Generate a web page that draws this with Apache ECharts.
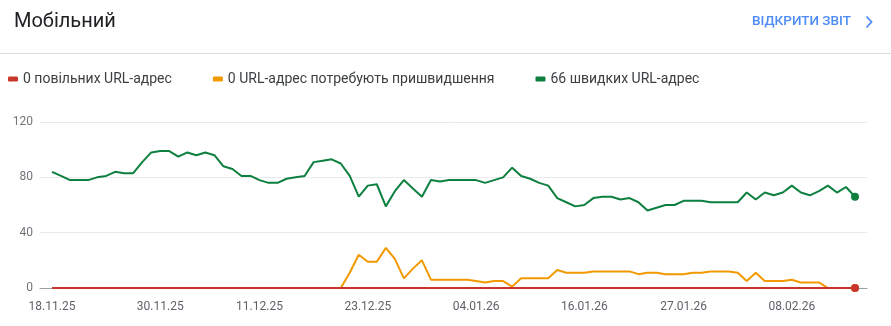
<!DOCTYPE html>
<html>
<head>
<meta charset="utf-8">
<script src="https://cdn.jsdelivr.net/npm/echarts@6/dist/echarts.min.js"></script>
<style>
html,body{margin:0;padding:0;background:#fff;}
#chart{width:891px;height:326px;}
</style>
</head>
<body>
<div id="chart"></div>
<script>
// Categories: daily dates
const dates = [
 '18.11.25','19.11.25','20.11.25','21.11.25','22.11.25','23.11.25','24.11.25','25.11.25','26.11.25','27.11.25','28.11.25','29.11.25','30.11.25',
 '01.12.25','02.12.25','03.12.25','04.12.25','05.12.25','06.12.25','07.12.25','08.12.25','09.12.25','10.12.25','11.12.25','12.12.25','13.12.25','14.12.25','15.12.25','16.12.25','17.12.25','18.12.25','19.12.25','20.12.25','21.12.25','22.12.25','23.12.25','24.12.25','25.12.25','26.12.25','27.12.25','28.12.25','29.12.25','30.12.25','31.12.25',
 '01.01.26','02.01.26','03.01.26','04.01.26','05.01.26','06.01.26','07.01.26','08.01.26','09.01.26','10.01.26','11.01.26','12.01.26','13.01.26','14.01.26','15.01.26','16.01.26','17.01.26','18.01.26','19.01.26','20.01.26','21.01.26','22.01.26','23.01.26','24.01.26','25.01.26','26.01.26','27.01.26','28.01.26','29.01.26','30.01.26','31.01.26',
 '01.02.26','02.02.26','03.02.26','04.02.26','05.02.26','06.02.26','07.02.26','08.02.26','09.02.26','10.02.26','11.02.26','12.02.26','13.02.26','14.02.26','15.02.26'
];
const tickLabels = ['18.11.25','30.11.25','11.12.25','23.12.25','04.01.26','16.01.26','27.01.26','08.02.26'];

const seriesNames = ['0 повільних URL-адрес', '0 URL-адрес потребують пришвидшення', '66 швидких URL-адрес'];

const slowValues = [
 0,0,0,0,0,0,0,0,0,0,0,0,0,
 0,0,0,0,0,0,0,0,0,0,0,0,0,0,0,0,0,0,0,0,0,0,0,0,0,0,0,0,0,0,0,
 0,0,0,0,0,0,0,0,0,0,0,0,0,0,0,0,0,0,0,0,0,0,0,0,0,0,0,0,0,0,0,
 0,0,0,0,0,0,0,0,0,0,0,0,0,0,0
];
const needsValues = [
 0,0,0,0,0,0,0,0,0,0,0,0,0,
 0,0,0,0,0,0,0,0,0,0, 0,0,0,0,0,0,0,0,0,0, 11,24,19,19,29,21,7,14,20,6,6,
 6,6,6,5,4,5,5,1,7,7,7,7,13,11,11,11,12,12,12,12,12,10,11,11,10,10,10,11,11,12,12,
 12,11,5,11,5,5,5,6,4,4,4,0,0,0,0
];
const fastValues = [
 84,81,78,78,78,80,81,84,83,83,91,98,99,
 99,95,98,96,98,96,88,86,81,81,78,76,76,79,80,81,91,92,93,90,81,66,74,75,59,70,78,72,66,78,77,
 78,78,78,78,76,78,80,87,81,79,76,74,65,62,59,60,65,66,66,64,65,62,56,58,60,60,63,63,63,62,62,
 62,62,69,64,69,67,69,74,69,67,70,74,69,73,66
];

const colors = { slow: '#c9372c', needs: '#f29900', fast: '#0d7f3f' };
const last = dates.length - 1;
const tickIdx = tickLabels.map(l => dates.indexOf(l));

function mk(name, vals, color, z) {
  return {
    name: name,
    type: 'line',
    data: vals.map((v, i) => [i, v]),
    color: color,
    z: z,
    lineStyle: { width: 2, color: color },
    itemStyle: { color: color },
    symbol: 'circle',
    symbolSize: (v, p) => (p.dataIndex === last ? 8 : 0),
    showSymbol: true,
    silent: true,
    animation: false,
    emphasis: { disabled: true }
  };
}

const chart = echarts.init(document.getElementById('chart'), null, { renderer: 'canvas' });
chart.setOption({
  animation: false,
  textStyle: { fontFamily: 'Roboto' },
  title: {
    text: 'Мобільний',
    left: 9, top: 7,
    textStyle: { fontSize: 20, fontWeight: 400, color: '#202124', fontFamily: 'Roboto' }
  },
  graphic: [
    { type: 'line', shape: { x1: 0, y1: 53.5, x2: 891, y2: 53.5 }, style: { stroke: '#dadce0', lineWidth: 1 } },
    { type: 'text', x: 752, y: 22, style: { text: 'ВІДКРИТИ ЗВІТ', fill: '#4d8cf5', font: '500 13.5px Roboto', textVerticalAlign: 'middle' } },
    { type: 'polyline', shape: { points: [[866.5, 16.5], [871.5, 22], [866.5, 27.5]] }, style: { stroke: '#4d8cf5', lineWidth: 1.8, fill: null } }
  ],
  legend: {
    data: seriesNames,
    left: 3, top: 67,
    icon: 'roundRect',
    itemWidth: 10, itemHeight: 5,
    itemGap: 41,
    textStyle: { fontSize: 14, color: '#3c4043', fontFamily: 'Roboto' },
    selectedMode: false
  },
  grid: { left: 40, right: 24, top: 122, bottom: 38, containLabel: false },
  xAxis: {
    type: 'value',
    min: -1.33, max: last + 1.33,
    splitLine: { show: false },
    axisTick: { show: false },
    axisLine: { show: true, lineStyle: { color: '#9aa0a6', width: 1 } },
    axisLabel: {
      customValues: tickIdx,
      formatter: v => dates[Math.round(v)],
      color: '#5f6368', fontSize: 12, margin: 13, fontFamily: 'Roboto'
    }
  },
  yAxis: {
    type: 'value',
    min: 0, max: 120, interval: 40,
    axisLine: { show: false },
    axisTick: { show: false },
    splitLine: { lineStyle: { color: '#e8eaed', width: 1 } },
    axisLabel: { color: '#70757a', fontSize: 12, margin: 7, fontFamily: 'Roboto' }
  },
  series: [
    mk(seriesNames[2], fastValues, colors.fast, 2),
    mk(seriesNames[1], needsValues, colors.needs, 3),
    mk(seriesNames[0], slowValues, colors.slow, 4)
  ]
});
</script>
</body>
</html>
